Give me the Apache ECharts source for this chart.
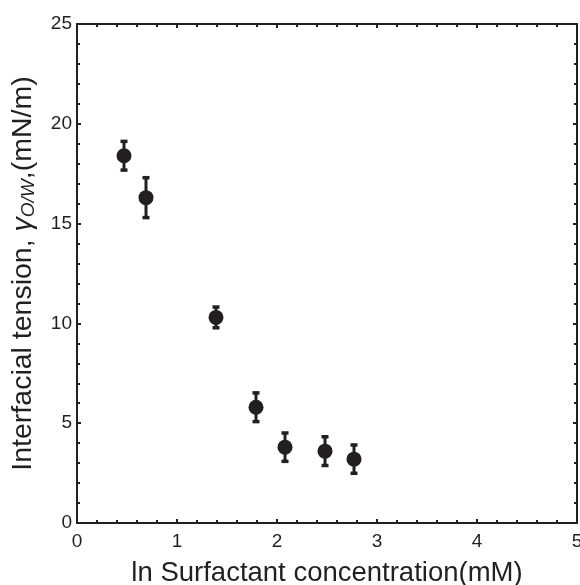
<!DOCTYPE html>
<html>
<head>
<meta charset="utf-8">
<script src="https://cdn.jsdelivr.net/npm/echarts@6/dist/echarts.min.js"></script>
<style>
html,body{margin:0;padding:0;background:#fff;overflow:hidden;}
#chart{width:580px;height:585px;}
</style>
</head>
<body>
<div id="chart"></div>
<script>
// Data
var lnConcentration = [0.47, 0.69, 1.39, 1.79, 2.08, 2.48, 2.77];
var tension = [18.4, 16.3, 10.3, 5.8, 3.8, 3.6, 3.2];
var tensionErr = [0.72, 1.0, 0.52, 0.72, 0.71, 0.72, 0.71];
var xTicks = [0, 1, 2, 3, 4, 5];
var yTicks = [0, 5, 10, 15, 20, 25];

var INK = '#231f20';
var FONT = '"Liberation Sans", Arial, Helvetica, sans-serif';

var points = lnConcentration.map(function (x, i) { return [x, tension[i]]; });
var bars = lnConcentration.map(function (x, i) { return [x, tension[i] - tensionErr[i], tension[i] + tensionErr[i]]; });

var chart = echarts.init(document.getElementById('chart'), null, {renderer: 'canvas'});

function axisCommon(showLabels) {
  return {
    type: 'value',
    axisLine: {show: true, onZero: false, lineStyle: {color: INK, width: 2}},
    axisTick: {show: true, inside: true, length: 4, lineStyle: {color: INK, width: 2}},
    minorTick: {show: true, splitNumber: 5, length: 3, lineStyle: {color: INK, width: 2}},
    splitLine: {show: false},
    axisLabel: {show: showLabels, color: INK, fontSize: 19, fontFamily: FONT}
  };
}

var xBottom = Object.assign(axisCommon(true), {
  min: 0, max: 5, interval: 1, position: 'bottom',
  name: 'ln Surfactant concentration(mM)',
  nameLocation: 'middle', nameGap: 36,
  nameTextStyle: {color: INK, fontSize: 27.5, fontFamily: FONT}
});
xBottom.axisLabel.margin = 9;
xBottom.axisLabel.formatter = function (v) { return xTicks.indexOf(v) >= 0 ? String(v) : ''; };

var xTop = Object.assign(axisCommon(false), {min: 0, max: 5, interval: 1, position: 'top'});

var yLeft = Object.assign(axisCommon(true), {
  min: 0, max: 25, interval: 5, position: 'left',
  name: '{t|Interfacial tension, }{g|γ}{s|O/W}{t|,(mN/m)}',
  nameLocation: 'middle', nameGap: 39, nameRotate: 90,
  nameTextStyle: {
    color: INK, fontSize: 28.5, fontFamily: FONT,
    rich: {
      t: {fontSize: 28.5, fontFamily: FONT, color: INK},
      g: {fontSize: 28.5, fontFamily: FONT, fontStyle: 'italic', color: INK},
      s: {fontSize: 19, fontFamily: FONT, fontStyle: 'italic', color: INK, verticalAlign: 'bottom', padding: [9, 0, 0, 0]}
    }
  }
});
yLeft.axisLabel.margin = 5;
yLeft.axisLabel.formatter = function (v) { return yTicks.indexOf(v) >= 0 ? String(v) : ''; };

var yRight = Object.assign(axisCommon(false), {min: 0, max: 25, interval: 5, position: 'right'});

chart.setOption({
  animation: false,
  backgroundColor: '#fff',
  grid: {left: 77, right: 3, top: 24, bottom: 62, containLabel: false, outerBoundsMode: 'none'},
  xAxis: [xBottom, xTop],
  yAxis: [yLeft, yRight],
  series: [
    {
      type: 'custom',
      xAxisIndex: 0, yAxisIndex: 0,
      data: bars,
      renderItem: function (params, api) {
        var x = api.value(0);
        var lo = api.coord([x, api.value(1)]);
        var hi = api.coord([x, api.value(2)]);
        var capW = 3.5;
        var st = {stroke: INK, lineWidth: 3};
        var cap = {stroke: INK, lineWidth: 3.5};
        return {
          type: 'group',
          children: [
            {type: 'line', shape: {x1: lo[0], y1: lo[1], x2: hi[0], y2: hi[1]}, style: st},
            {type: 'line', shape: {x1: lo[0] - capW, y1: lo[1], x2: lo[0] + capW, y2: lo[1]}, style: cap},
            {type: 'line', shape: {x1: hi[0] - capW, y1: hi[1], x2: hi[0] + capW, y2: hi[1]}, style: cap}
          ]
        };
      },
      z: 2
    },
    {
      type: 'scatter',
      xAxisIndex: 0, yAxisIndex: 0,
      data: points,
      symbol: 'circle',
      symbolSize: 15,
      itemStyle: {color: INK, opacity: 1},
      z: 3
    }
  ]
});
</script>
</body>
</html>
